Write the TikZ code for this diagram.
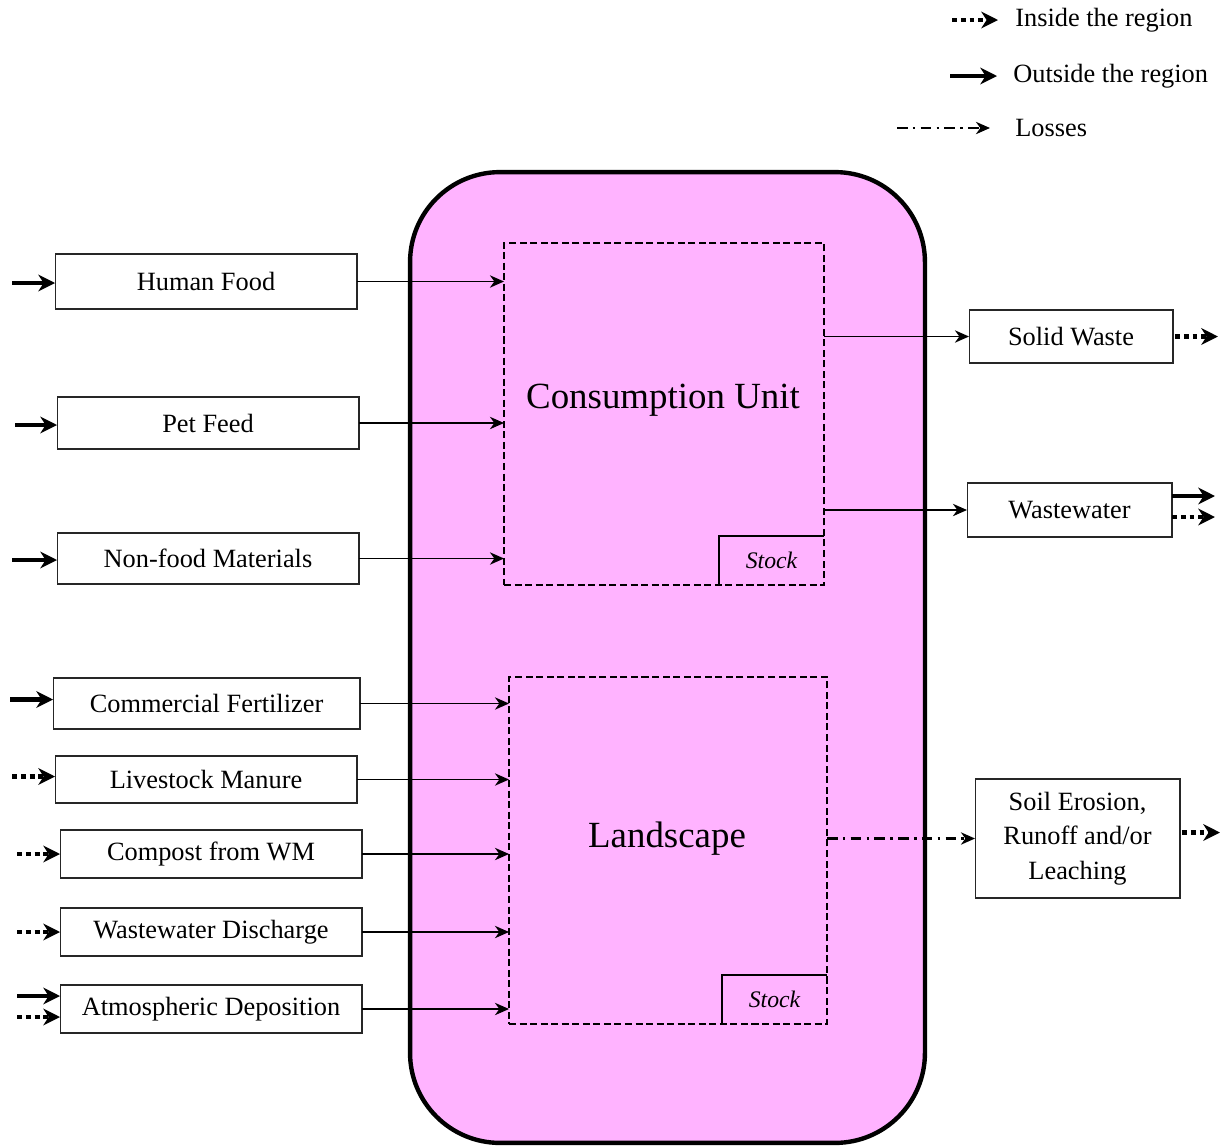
\documentclass[tikz,border=0pt]{standalone}
\usepackage{fontspec}
\setmainfont{Liberation Serif}
\usetikzlibrary{arrows.meta}
\definecolor{regionpink}{RGB}{255,179,255}
\begin{document}
\begin{tikzpicture}[x=0.02cm,y=-0.02cm,
  txt/.style={font=\fontsize{15}{18}\selectfont},
  box/.style={draw=black!85,line width=0.6pt,fill=white,inner sep=0pt,outer sep=0pt,txt,align=center},
  unit/.style={draw=black,line width=1.2pt,dash pattern=on 4pt off 2pt,inner sep=0pt,outer sep=0pt},
  stockbox/.style={inner sep=0pt,outer sep=0pt,font=\fontsize{13.5}{16}\itshape},
  stockline/.style={draw=black,line width=0.6pt},
  flow/.style={line width=1.1pt,-{Stealth[length=8pt,width=7pt,inset=2.5pt]}},
  outside/.style={line width=2.8pt,-{Stealth[length=9.5pt,width=9.5pt,inset=3pt]}},
  inside/.style={line width=2.8pt,dash pattern=on 2.8pt off 2.2pt,-{Stealth[length=9.5pt,width=9.5pt,inset=3pt]}},
  losses/.style={line width=1.2pt,dash pattern=on 6pt off 3pt on 1.5pt off 3pt,-{Stealth[length=8pt,width=7pt,inset=2.5pt]}},
]
\useasboundingbox (0,0) rectangle (1231,1147);

% region
\node[draw=black,line width=2.5pt,fill=regionpink,rounded corners=1.8cm,
  minimum width=10.3cm,minimum height=19.42cm,inner sep=0pt] (region) at (667.5,657.5) {};

% consumption unit
\node[stockbox,minimum width=2.1cm,minimum height=0.98cm] (stock1) at (771.5,560.5) {Stock};
\draw[stockline] (stock1.south west) -- (stock1.north west) -- (stock1.north east);
\node[unit,minimum width=6.4cm,minimum height=6.84cm] (cu) at (664,414) {};
\node[font=\fontsize{21}{25}\selectfont] (cutext) at (663,400) {Consumption Unit};

% landscape
\node[stockbox,minimum width=2.1cm,minimum height=0.98cm] (stock2) at (774.5,999.5) {Stock};
\draw[stockline] (stock2.south west) -- (stock2.north west) -- (stock2.north east);
\node[unit,minimum width=6.36cm,minimum height=6.94cm] (ls) at (668,850.5) {};
\node[font=\fontsize{21}{25}\selectfont] (lstext) at (667,839) {Landscape};

% inputs
\node[box,minimum width=6.04cm,minimum height=1.1cm] (hf) at (206,281.5) {Human Food};
\node[box,minimum width=6.04cm,minimum height=1.04cm] (pf) at (208,423) {Pet Feed};
\node[box,minimum width=6.04cm,minimum height=1.02cm] (nf) at (208,558.5) {Non-food Materials};
\node[box,minimum width=6.14cm,minimum height=1.02cm] (cf) at (206.5,703.5) {Commercial Fertilizer};
\node[box,minimum width=6.04cm,minimum height=0.94cm] (lm) at (206,779.5) {Livestock Manure};
\node[box,minimum width=6.04cm,minimum height=0.96cm] (cw) at (211,854) {Compost from WM};
\node[box,minimum width=6.04cm,minimum height=0.96cm] (wd) at (211,932) {Wastewater Discharge};
\node[box,minimum width=6.04cm,minimum height=0.96cm] (ad) at (211,1009) {Atmospheric Deposition};

% outputs
\node[box,minimum width=4.08cm,minimum height=1.06cm] (sw) at (1071,336.5) {Solid Waste};
\node[box,minimum width=4.1cm,minimum height=1.08cm] (ww) at (1069.5,510) {Wastewater};
\node[box,minimum width=4.1cm,minimum height=2.38cm,font=\fontsize{15}{19.8}\selectfont] (se) at (1077.5,838.5) {Soil Erosion,\\Runoff and/or\\Leaching};

% legend
\node[txt,anchor=west,inner sep=0pt] (leg1) at (1015,20) {Inside the region};
\node[txt,anchor=west,inner sep=0pt] (leg2) at (1013,76) {Outside the region};
\node[txt,anchor=west,inner sep=0pt] (leg3) at (1015,128) {Losses};
\coordinate (l1) at (952,20);
\coordinate (l2) at (950,76);
\coordinate (l3) at (897,128);
\draw[inside] (l1) -- ([xshift=-0.34cm]leg1.west);
\draw[outside] (l2) -- ([xshift=-0.32cm]leg2.west);
\draw[losses] (l3) -- ([xshift=-0.5cm]leg3.west);

% flows into the consumption unit
\draw[flow] (hf.east) -- (hf.east -| cu.west);
\draw[flow] (pf.east) -- (pf.east -| cu.west);
\draw[flow] (nf.east) -- (nf.east -| cu.west);

% flows into the landscape
\draw[flow] (cf.east) -- (cf.east -| ls.west);
\draw[flow] (lm.east) -- (lm.east -| ls.west);
\draw[flow] (cw.east) -- (cw.east -| ls.west);
\draw[flow] (wd.east) -- (wd.east -| ls.west);
\draw[flow] (ad.east) -- (ad.east -| ls.west);

% flows out
\draw[flow] (sw.west -| cu.east) -- (sw.west);
\draw[flow] (ww.west -| cu.east) -- (ww.west);
\draw[losses] (se.west -| ls.east) -- (se.west);

% origins of the inputs
\draw[outside] (hf.west) ++(-43,1.5) -- ++(43,0);
\draw[outside] (pf.west) ++(-42,2) -- ++(42,0);
\draw[outside] (nf.west) ++(-45,1.5) -- ++(45,0);
\draw[outside] (cf.west) ++(-43,-4) -- ++(43,0);
\draw[inside] (lm.west) ++(-43,-3) -- ++(43,0);
\draw[inside] (cw.west) ++(-43,0) -- ++(43,0);
\draw[inside] (wd.west) ++(-43,0) -- ++(43,0);
\draw[outside] (ad.west) ++(-43,-13) -- ++(43,0);
\draw[inside] (ad.west) ++(-43,8) -- ++(43,0);

% destinations of the outputs
\draw[inside] (sw.east) ++(2,0) -- ++(43,0);
\draw[outside] (ww.east) ++(0,-14) -- ++(43,0);
\draw[inside] (ww.east) ++(0,7) -- ++(43,0);
\draw[inside] (se.east) ++(2,-6) -- ++(38,0);
\end{tikzpicture}
\end{document}
